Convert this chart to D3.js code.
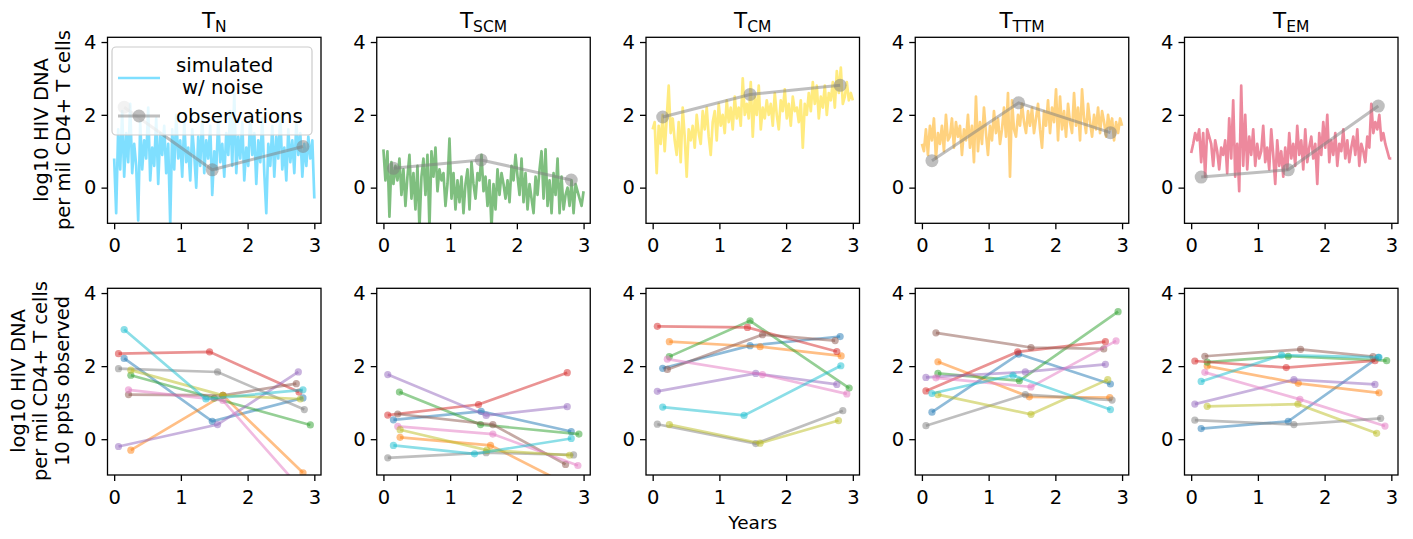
<!DOCTYPE html>
<html><head><meta charset="utf-8">
<script src="https://cdn.jsdelivr.net/npm/d3@7"></script>
<style>
body{margin:0;background:#fff;}
text{font-family:"DejaVu Sans",sans-serif;fill:#000;}
</style></head>
<body>
<svg id="chart" width="1413" height="539"></svg>
<script>
// ---------------- DATA ----------------
const subsets = ["N", "SCM", "CM", "TTM", "EM"];
const xTicks = [0, 1, 2, 3];
const yTicks = [0, 2, 4];

// simulated (with noise) trajectories, evenly spaced over 0..3 years
const simN = [0.8,-0.7,1.6,0.5,2.1,0.3,1.5,0.7,2.3,0.4,1.2,0.6,-0.9,1.8,0.5,1.3,0.8,2.2,0.2,1.1,0.6,1.9,0.1,1.5,0.9,1.7,0.4,1.2,-1.0,1.6,0.5,2.0,0.8,1.3,0.3,1.8,0.7,1.1,0.2,1.6,0.9,0.0,1.4,0.6,2.0,0.4,1.3,0.8,1.7,-0.2,1.0,0.5,1.9,0.7,1.2,0.3,1.5,0.9,2.1,0.6,2.6,0.4,1.4,0.8,1.8,0.2,1.1,0.6,2.0,0.9,1.5,0.1,1.3,0.7,1.9,0.4,-0.7,1.2,0.6,1.7,0.3,1.4,0.8,2.0,0.5,1.1,0.2,1.6,0.7,1.3,0.4,1.8,0.9,1.5,0.3,1.2,0.6,1.4,0.8,1.3,-0.3];
const simSCM = [1.05,0.2,1.0,-0.8,0.7,0.1,0.6,0.2,0.8,-0.2,0.5,-0.5,0.3,0.9,-0.3,0.4,-0.6,0.6,-1.1,0.3,0.8,-0.2,0.9,-1.1,1.0,0.3,1.1,-0.1,0.5,0.2,0.4,-0.5,0.1,1.35,-0.3,0.4,-0.6,0.2,-0.4,0.3,-0.7,0.1,0.5,-0.6,0.7,0.1,-0.3,0.4,0.2,0.9,-0.1,0.3,-0.5,0.2,-1.1,0.1,-0.6,0.5,-0.2,0.4,0.1,-0.3,0.2,-0.4,0.6,0.2,0.9,0.3,-0.2,0.8,-0.4,0.4,-0.6,0.1,-0.3,-0.7,0.3,-0.2,0.5,1.0,-0.3,1.05,-0.5,0.2,-0.7,0.4,-0.2,0.8,-0.7,0.3,-0.6,-0.2,0.0,-0.5,0.2,-0.7,0.1,-0.1,-0.3,-0.5,-0.1];
const simCM = [1.6,1.8,0.4,1.7,1.2,2.0,1.0,1.9,2.8,1.5,1.9,1.3,0.9,1.8,0.7,2.2,1.4,0.3,1.6,1.3,1.7,1.1,2.0,1.5,1.2,2.1,1.6,2.2,1.4,0.9,1.8,2.1,1.3,2.3,1.7,2.0,1.5,2.4,1.8,2.2,1.6,2.5,1.9,2.2,1.7,3.0,2.0,2.3,1.9,2.9,1.4,2.5,2.0,2.8,1.6,2.2,1.9,2.4,2.0,2.3,1.7,2.6,2.0,1.6,2.4,2.1,2.7,1.9,2.3,1.7,2.5,2.1,2.2,1.8,2.4,1.1,2.3,2.0,2.6,2.1,2.9,2.3,2.8,1.9,2.5,2.2,2.8,2.0,2.6,2.4,2.9,2.2,3.2,2.6,3.3,2.3,2.5,2.9,2.4,2.6,2.4];
const simTTM = [1.2,1.0,1.6,0.9,1.7,1.3,1.9,0.8,1.5,1.2,1.7,1.0,2.0,1.3,1.4,1.9,1.1,1.8,1.4,1.7,0.9,1.6,1.3,2.0,1.1,1.7,0.7,2.5,1.0,1.8,1.2,2.2,1.5,0.9,1.7,1.3,2.1,1.5,1.9,1.2,1.6,2.2,1.4,2.6,0.3,2.4,1.6,1.4,2.0,1.7,2.3,1.8,1.5,2.1,1.7,2.2,1.5,1.9,2.3,1.6,1.1,2.1,1.7,2.4,1.5,2.2,1.8,2.7,1.3,2.5,1.6,2.1,1.4,2.3,1.8,1.5,2.6,1.7,2.2,1.3,2.7,1.9,1.5,2.3,1.8,1.4,2.0,1.6,2.2,1.5,2.1,1.8,1.4,2.0,1.6,1.9,1.3,1.8,1.5,1.9,1.7];
const simEM = [0.95,1.2,1.5,1.3,1.6,0.7,1.5,0.3,1.6,1.4,1.2,0.6,1.3,1.0,0.5,1.1,0.9,1.3,0.4,1.9,0.8,2.4,0.3,1.2,-0.1,2.8,0.6,2.0,0.5,1.4,0.9,1.6,0.6,1.2,0.8,1.0,1.7,0.7,1.1,0.5,1.6,0.9,0.1,1.3,0.6,1.0,0.3,1.1,0.5,1.5,0.8,1.2,0.6,1.7,0.9,1.3,0.5,1.6,0.7,1.1,1.4,0.8,1.2,0.1,1.5,0.9,1.8,1.1,2.0,0.7,1.3,0.9,1.5,0.6,1.2,1.0,1.6,0.8,1.3,0.7,1.1,1.4,0.9,1.6,0.6,1.2,1.0,0.7,1.4,1.1,2.3,1.5,1.8,1.6,2.0,1.3,1.5,1.2,1.0,0.8,0.8];

// 10 participants (tab10 order), sample times in years and log10 values
const timesN = [[0.15,1.47,2.83],[0.25,1.63,2.83],[0.25,1.50,2.94],[0.065,1.43,2.77],[0.065,1.55,2.76],[0.215,1.63,2.73],[0.215,1.63,2.80],[0.065,1.55,2.85],[0.25,1.63,2.79],[0.15,1.375,2.83]];
const valsN  = [[2.21,0.49,1.13],[-0.30,1.20,-0.92],[1.75,1.12,0.39],[2.34,2.39,1.29],[-0.20,0.40,1.84],[1.22,1.20,1.52],[1.35,1.06,-1.36],[1.93,1.84,0.81],[1.89,1.20,1.10],[3.00,1.10,1.35]];
const timesSCM = [[0.15,1.465,2.815],[0.25,1.605,2.80],[0.24,1.455,2.93],[0.065,1.425,2.755],[0.065,1.54,2.755],[0.215,1.64,2.73],[0.215,1.64,2.915],[0.065,1.54,2.85],[0.25,1.55,2.79],[0.15,1.365,2.815]];
const valsSCM  = [[0.53,0.76,0.21],[0.05,-0.17,-1.28],[1.29,0.40,0.14],[0.66,0.95,1.82],[1.77,0.65,0.89],[0.69,0.40,-0.69],[0.35,0.14,-0.72],[-0.51,-0.37,-0.43],[0.26,-0.30,-0.44],[-0.17,-0.40,0.02]];
const timesCM = [[0.15,1.46,2.81],[0.25,1.61,2.825],[0.25,1.46,2.945],[0.07,1.42,2.76],[0.07,1.545,2.76],[0.22,1.645,2.735],[0.22,1.645,2.91],[0.07,1.545,2.85],[0.25,1.61,2.785],[0.15,1.37,2.82]];
const valsCM  = [[1.94,2.56,2.81],[2.67,2.53,2.28],[2.26,3.24,1.40],[3.09,3.06,2.40],[1.31,1.80,1.50],[1.91,2.86,2.70],[2.19,1.77,1.24],[0.41,-0.12,0.78],[0.40,-0.11,0.51],[0.88,0.65,2.01]];
const timesTTM = [[0.15,1.45,2.825],[0.24,1.61,2.815],[0.24,1.46,2.94],[0.06,1.435,2.75],[0.06,1.55,2.75],[0.21,1.635,2.725],[0.21,1.635,2.91],[0.06,1.55,2.85],[0.24,1.635,2.785],[0.15,1.365,2.825]];
const valsTTM  = [[0.74,2.33,1.51],[2.12,1.16,1.14],[1.80,1.60,3.49],[1.32,2.39,2.67],[1.69,1.84,2.05],[2.91,2.51,2.47],[1.68,1.43,2.69],[0.37,1.22,1.07],[1.22,0.68,1.63],[1.25,1.75,0.81]];
const timesEM = [[0.15,1.455,2.805],[0.24,1.605,2.815],[0.24,1.455,2.93],[0.055,1.425,2.755],[0.055,1.54,2.755],[0.205,1.64,2.725],[0.205,1.63,2.905],[0.055,1.54,2.84],[0.24,1.6,2.78],[0.15,1.355,2.815]];
const valsEM  = [[0.29,0.49,2.24],[2.00,1.53,1.27],[2.11,2.27,2.15],[2.14,1.96,2.15],[0.96,1.63,1.50],[2.27,2.46,2.26],[1.83,1.09,0.36],[0.52,0.40,0.57],[0.90,0.96,0.16],[1.58,2.30,2.24]];

// ---------------- STYLE / LAYOUT ----------------
const simData = [simN, simSCM, simCM, simTTM, simEM];
const ptTimes = [timesN, timesSCM, timesCM, timesTTM, timesEM];
const ptVals = [valsN, valsSCM, valsCM, valsTTM, valsEM];
const simColors = ["deepskyblue", "green", "gold", "orange", "crimson"];
const tab10 = d3.schemeCategory10;

const svg = d3.select("#chart");
const panelW = 213.5, step = 269.25, left0 = 107.5;
const rows = [{top: 37.3, bottom: 223.3}, {top: 288.3, bottom: 475}];
const fs = 19.5;

function makeAxes(r, c) {
  const x0 = left0 + c * step;
  const x = d3.scaleLinear().domain([-0.1, 3.1]).range([x0, x0 + panelW]);
  const y = d3.scaleLinear().domain([-0.98, 4.13]).range([rows[r].bottom, rows[r].top]);
  const g = svg.append("g");
  const id = `clip${r}${c}`;
  svg.append("clipPath").attr("id", id).append("rect")
    .attr("x", x0).attr("y", rows[r].top).attr("width", panelW).attr("height", rows[r].bottom - rows[r].top);
  const plot = g.append("g").attr("clip-path", `url(#${id})`);
  const xa = g.append("g").attr("transform", `translate(0,${rows[r].bottom})`)
    .call(d3.axisBottom(x).tickValues(xTicks).tickSize(6).tickPadding(9).tickFormat(d3.format("d")));
  const ya = g.append("g").attr("transform", `translate(${x0},0)`)
    .call(d3.axisLeft(y).tickValues(yTicks).tickSize(6).tickPadding(5).tickFormat(d3.format("d")));
  [xa, ya].forEach(a => {
    a.select(".domain").remove();
    a.selectAll("line").attr("stroke", "#000").attr("stroke-width", 1.3);
    a.selectAll("text").attr("font-size", fs).attr("font-family", "DejaVu Sans").attr("fill", "#000");
  });
  g.append("rect").attr("x", x0).attr("y", rows[r].top).attr("width", panelW)
    .attr("height", rows[r].bottom - rows[r].top).attr("fill", "none").attr("stroke", "#000").attr("stroke-width", 1.3);
  return {x, y, g, plot, x0};
}

const line = (x, y) => d3.line().x(d => x(d[0])).y(d => y(d[1]));

subsets.forEach((name, c) => {
  // ---- top row
  const A = makeAxes(0, c);
  const sim = simData[c];
  const simPts = sim.map((v, i) => [i * 3 / (sim.length - 1), v]);
  A.plot.append("path").datum(simPts).attr("d", line(A.x, A.y))
    .attr("fill", "none").attr("stroke", simColors[c]).attr("stroke-opacity", 0.5)
    .attr("stroke-width", 2.7).attr("stroke-linejoin", "round");
  const obs = ptTimes[c][0].map((t, i) => [t, ptVals[c][0][i]]);
  A.plot.append("path").datum(obs).attr("d", line(A.x, A.y))
    .attr("fill", "none").attr("stroke", "gray").attr("stroke-opacity", 0.5).attr("stroke-width", 3);
  A.plot.selectAll(".obs").data(obs).enter().append("circle")
    .attr("cx", d => A.x(d[0])).attr("cy", d => A.y(d[1])).attr("r", 6.5)
    .attr("fill", "gray").attr("fill-opacity", 0.5);
  const tt = svg.append("text").attr("x", A.x0 + panelW / 2).attr("y", 28)
    .attr("text-anchor", "middle").attr("font-size", 21.5);
  tt.append("tspan").text("T");
  tt.append("tspan").attr("font-size", 15.5).attr("dy", 4).text(name);

  // ---- bottom row
  const B = makeAxes(1, c);
  ptTimes[c].forEach((ts, k) => {
    const pts = ts.map((t, i) => [t, ptVals[c][k][i]]);
    B.plot.append("path").datum(pts).attr("d", line(B.x, B.y))
      .attr("fill", "none").attr("stroke", tab10[k]).attr("stroke-opacity", 0.5).attr("stroke-width", 2.7);
    B.plot.selectAll(null).data(pts).enter().append("circle")
      .attr("cx", d => B.x(d[0])).attr("cy", d => B.y(d[1])).attr("r", 3.6)
      .attr("fill", tab10[k]).attr("fill-opacity", 0.5);
  });
});

// legend in first top panel
const lg = svg.append("g");
lg.append("rect").attr("x", 112).attr("y", 47).attr("width", 200).attr("height", 88).attr("rx", 4)
  .attr("fill", "#fff").attr("fill-opacity", 0.8).attr("stroke", "#ccc").attr("stroke-width", 1.2);
lg.append("line").attr("x1", 118).attr("x2", 160).attr("y1", 78).attr("y2", 78)
  .attr("stroke", simColors[0]).attr("stroke-opacity", 0.5).attr("stroke-width", 2.7);
lg.append("line").attr("x1", 118).attr("x2", 160).attr("y1", 116).attr("y2", 116)
  .attr("stroke", "gray").attr("stroke-opacity", 0.5).attr("stroke-width", 3);
lg.append("circle").attr("cx", 139).attr("cy", 116).attr("r", 6.5).attr("fill", "gray").attr("fill-opacity", 0.5);
lg.append("text").attr("x", 176).attr("y", 72).attr("font-size", 19.7).text("simulated");
lg.append("text").attr("x", 182).attr("y", 94).attr("font-size", 19.7).text("w/ noise");
lg.append("text").attr("x", 176).attr("y", 123).attr("font-size", 19.7).text("observations");

// y labels
function ylabel(lines, cx0, cy) {
  const t = svg.append("text").attr("transform", `translate(${cx0},${cy}) rotate(-90)`)
    .attr("text-anchor", "middle").attr("font-size", 19.5);
  lines.forEach((s, i) => t.append("tspan").attr("x", 0).attr("y", i * 22).text(s));
}
ylabel(["log10 HIV DNA", "per mil CD4+ T cells"], 48, 130);
ylabel(["log10 HIV DNA", "per mil CD4+ T cells", "10 ppts observed"], 25, 381);

// x label
svg.append("text").attr("x", left0 + 2 * step + panelW / 2).attr("y", 529)
  .attr("text-anchor", "middle").attr("font-size", 18.5).text("Years");
</script>
</body></html>
